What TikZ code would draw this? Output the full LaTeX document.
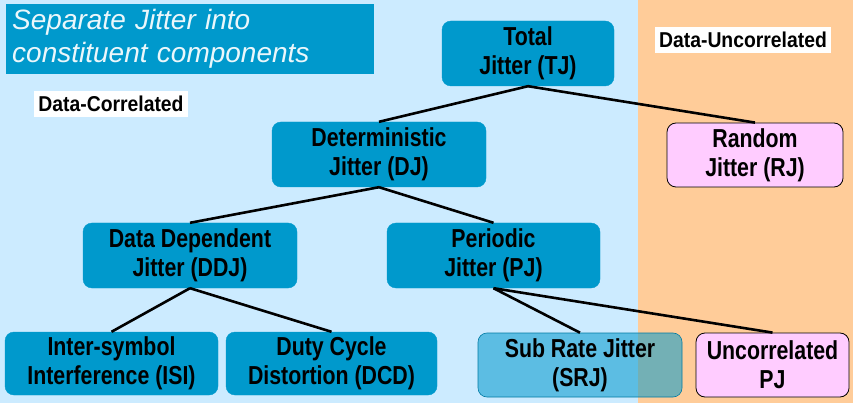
\documentclass[tikz,border=0pt]{standalone}
\usepackage{fontspec}
\setmainfont{Liberation Sans}[FakeStretch=0.82]
\newfontfamily\titlefont{Liberation Sans}
\newfontfamily\lblfont{Liberation Sans}[FakeStretch=0.9]
\begin{document}
\begin{tikzpicture}[x=1pt,y=-1pt,
  box/.style={rounded corners=9pt,fill=jblue,draw=jblue,minimum width=#1,minimum height=65pt,inner sep=0pt,align=center,font=\fontsize{26}{29}\selectfont\bfseries},
  pbox/.style={rounded corners=9pt,fill=jpink,draw=black,line width=0.8pt,minimum width=#1,minimum height=64pt,inner sep=0pt,align=center,font=\fontsize{26}{29}\selectfont\bfseries},
  lbl/.style={fill=white,inner xsep=4pt,inner ysep=0pt,minimum height=26pt,font=\lblfont\fontsize{21.5}{24}\selectfont\bfseries},
  conn/.style={line width=2.6pt}]
\definecolor{jblue}{HTML}{0099CC}
\definecolor{jlight}{HTML}{CCEBFF}
\definecolor{jorange}{HTML}{FFCC99}
\definecolor{jpink}{HTML}{FFCCFF}
\useasboundingbox (0,0) rectangle (853,403);
\fill[jlight] (0,0) rectangle (638,403);
\fill[jorange] (638,0) rectangle (853,403);
\node[fill=jblue,minimum width=368pt,minimum height=70pt,inner sep=0pt,anchor=north west,text=white!92!jblue,align=left,text width=356pt,font=\titlefont\fontsize{28}{33}\selectfont\itshape] (title) at (6,4) {Separate Jitter into\\constituent components};
\node[lbl] (dc) at (111,104) {Data-Correlated};
\node[lbl] (du) at (743,40) {Data-Uncorrelated};
\node[box=172pt] (tj) at (528,53.5) {Total\\Jitter (TJ)};
\node[box=214pt] (dj) at (379,154.5) {Deterministic\\Jitter (DJ)};
\node[pbox=176pt] (rj) at (755,155) {Random\\Jitter (RJ)};
\node[box=214pt] (ddj) at (190,255.5) {Data Dependent\\Jitter (DDJ)};
\node[box=213pt] (pj) at (493.5,255.5) {Periodic\\Jitter (PJ)};
\node[box=213pt,minimum height=63pt] (isi) at (111.5,363.5) {Inter-symbol\\Interference (ISI)};
\node[box=211pt,minimum height=63pt] (dcd) at (331.5,363.5) {Duty Cycle\\Distortion (DCD)};
\node[pbox=153pt] (upj) at (772.5,365) {Uncorrelated\\PJ};
\draw[conn] (tj.south) -- (dj.north);
\draw[conn] (tj.south) -- (rj.north);
\draw[conn] (dj.south) -- (ddj.north);
\draw[conn] (dj.south) -- (pj.north);
\draw[conn] (ddj.south) -- (isi.north);
\draw[conn] (ddj.south) -- (dcd.north);
\draw[conn] (pj.south) -- (upj.north);
\node[box=204pt,minimum height=64pt,fill opacity=0.55,text opacity=1,draw=jblue!80!black,line width=0.6pt] (srj) at (580,365) {Sub Rate Jitter\\(SRJ)};
\draw[conn] (pj.south) -- (srj.north);
\end{tikzpicture}
\end{document}
